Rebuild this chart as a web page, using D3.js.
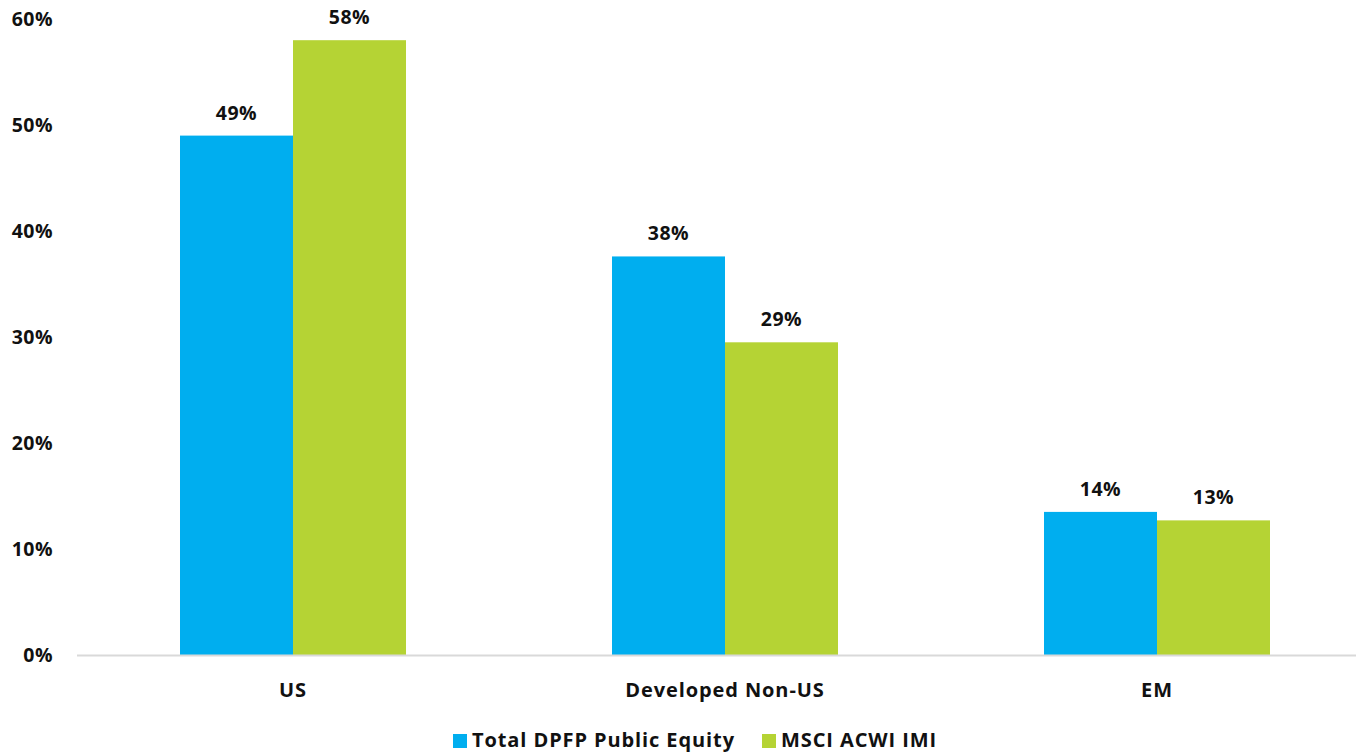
<!DOCTYPE html>
<html>
<head>
<meta charset="utf-8">
<script src="https://cdn.jsdelivr.net/npm/d3@7"></script>
<style>
  body { margin: 0; background: #fff; }
  text { font-family: "Open Sans", sans-serif; font-weight: 700; fill: #111; letter-spacing: 0.5px; }
</style>
</head>
<body>
<script>
const categories = ['US', 'Developed Non-US', 'EM'];
const seriesNames = ['Total DPFP Public Equity', 'MSCI ACWI IMI'];
const dpfpValues = [49, 37.6, 13.5];
const msciValues = [58, 29.5, 12.7];
const valueLabels = [['49%', '58%'], ['38%', '29%'], ['14%', '13%']];
const yTicks = [0, 10, 20, 30, 40, 50, 60];
const colors = ['#00aeef', '#b5d334'];

const width = 1356, height = 753;
const svg = d3.select('body').append('svg')
  .attr('width', width)
  .attr('height', height);

const y = d3.scaleLinear().domain([0, 60]).range([655, 19]);
const x0 = d3.scaleBand().domain(categories).range([77, 1373]);
const x1 = d3.scaleBand().domain(seriesNames).range([0, x0.bandwidth()]).paddingOuter(0.9115);

// y axis labels
svg.append('g')
  .attr('transform', 'translate(77,0)')
  .call(d3.axisLeft(y).tickValues(yTicks).tickSize(0).tickPadding(24).tickFormat(d => d + '%'))
  .call(g => g.select('.domain').remove())
  .selectAll('text')
  .style('font-size', '19.5px')
  .attr('dy', '0.35em');

const rows = categories.map((c, i) => ({ cat: c, vals: [dpfpValues[i], msciValues[i]], labels: valueLabels[i] }));

const groups = svg.selectAll('g.cat')
  .data(rows)
  .enter().append('g')
  .attr('class', 'cat')
  .attr('transform', d => `translate(${x0(d.cat)},0)`);

groups.selectAll('rect')
  .data(d => d.vals.map((v, j) => ({ name: seriesNames[j], v: v, j: j })))
  .enter().append('rect')
  .attr('x', d => x1(d.name))
  .attr('width', x1.bandwidth())
  .attr('y', d => y(d.v))
  .attr('height', d => y(0) - y(d.v))
  .attr('fill', d => colors[d.j]);

groups.selectAll('text.val')
  .data(d => d.vals.map((v, j) => ({ name: seriesNames[j], v: v, label: d.labels[j] })))
  .enter().append('text')
  .attr('class', 'val')
  .attr('x', d => x1(d.name) + x1.bandwidth() / 2)
  .attr('y', d => y(d.v) - 16)
  .attr('text-anchor', 'middle')
  .style('font-size', '19.5px')
  .text(d => d.label);

// baseline
svg.append('line')
  .attr('x1', 77).attr('x2', width)
  .attr('y1', y(0) + 0.5).attr('y2', y(0) + 0.5)
  .attr('stroke', '#d9d9d9')
  .attr('stroke-width', 2);

// category labels
svg.append('g').selectAll('text')
  .data(categories)
  .enter().append('text')
  .attr('x', d => x0(d) + x0.bandwidth() / 2)
  .attr('y', 697)
  .attr('text-anchor', 'middle')
  .style('font-size', '20px')
  .style('letter-spacing', '0.9px')
  .text(d => d);

// legend
const legendX = [453, 762];
const legend = svg.append('g').selectAll('g')
  .data(seriesNames)
  .enter().append('g')
  .attr('transform', (d, i) => `translate(${legendX[i]},734)`);
legend.append('rect')
  .attr('width', 14).attr('height', 14)
  .attr('fill', (d, i) => colors[i]);
legend.append('text')
  .attr('x', 19).attr('y', 13)
  .style('font-size', '20px')
  .style('letter-spacing', '0.9px')
  .text(d => d);
</script>
</body>
</html>
